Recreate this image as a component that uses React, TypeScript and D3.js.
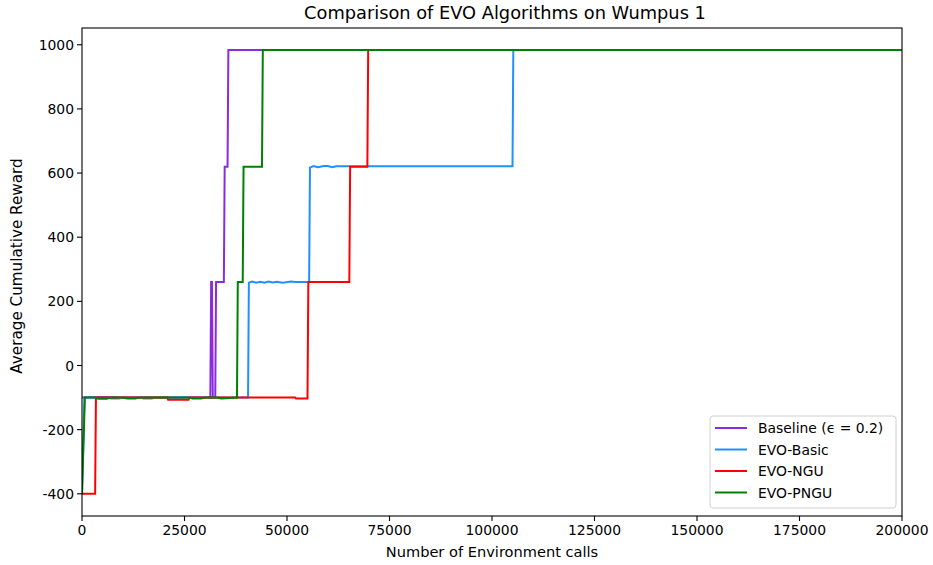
import React from "react";
import * as d3 from "d3";

const title = "Comparison of EVO Algorithms on Wumpus 1";
const xLabel = "Number of Environment calls";
const yLabel = "Average Cumulative Reward";
const xTicks = [0, 25000, 50000, 75000, 100000, 125000, 150000, 175000, 200000];
const yTicks = [-400, -200, 0, 200, 400, 600, 800, 1000];

const seriesNames = ["Baseline (\u03f5 = 0.2)", "EVO-Basic", "EVO-NGU", "EVO-PNGU"];
const seriesColors = ["#8a2be2", "#1e90ff", "#ff0000", "#008000"];

const baselineX = [0, 5000, 10000, 31300, 31500, 31700, 31900, 32500, 32700, 34600, 34800, 35500, 35700, 200000];
const baselineY = [-100, -98, -100, -100, 260, 260, -100, -100, 260, 260, 620, 620, 984, 984];

const basicX = [0, 600, 6000, 7000, 9000, 10000, 14000, 15000, 17000, 18000, 22000, 40500, 40700, 41500, 42500, 43500, 44500, 45500, 46500, 47500, 49000, 51000, 52000, 55400, 55600, 56500, 57500, 59000, 60000, 61000, 62000, 63000, 105000, 105200, 200000];
const basicY = [-400, -100, -100, -103, -103, -100, -100, -103, -103, -100, -100, -100, 258, 262, 258, 261, 258, 262, 259, 261, 258, 262, 260, 260, 617, 622, 618, 622, 622, 618, 621, 621, 621, 984, 984];

const nguX = [0, 3200, 3400, 20800, 21000, 26000, 26200, 52000, 52200, 55000, 55200, 65200, 65400, 69600, 69800, 200000];
const nguY = [-400, -400, -100, -100, -107, -107, -100, -100, -103, -103, 260, 260, 620, 620, 984, 984];

const pnguX = [0, 700, 3000, 4000, 6000, 7000, 10000, 11000, 13000, 14000, 26000, 27000, 29000, 30000, 33000, 34000, 37800, 38000, 39200, 39400, 43900, 44100, 200000];
const pnguY = [-400, -100, -100, -104, -104, -100, -100, -103, -103, -100, -100, -103, -103, -100, -100, -103, -100, 260, 260, 620, 620, 984, 984];

const seriesXs = [baselineX, basicX, nguX, pnguX];
const seriesYs = [baselineY, basicY, nguY, pnguY];

export default function App() {
  const W = 933, H = 565;
  const left = 82, right = 902, top = 28, bottom = 516;
  const x = d3.scaleLinear().domain([0, 200000]).range([left, right]);
  const y = d3.scaleLinear().domain([-469.2, 1052.2]).range([bottom, top]);
  const line = d3.line<[number, number]>().x(d => x(d[0])).y(d => y(d[1]));
  const font = "DejaVu Sans, sans-serif";
  const legX = 710, legY = 416, legW = 186, legH = 92;
  return (
    <svg width={W} height={H} style={{ position: "absolute", left: 0, top: 0, background: "#fff" }} fontFamily={font}>
      <rect x={0} y={0} width={W} height={H} fill="#fff" />
      <defs>
        <clipPath id="plot"><rect x={left} y={top} width={right - left} height={bottom - top} /></clipPath>
      </defs>
      <g clipPath="url(#plot)">
        {seriesXs.map((xs, i) => (
          <path key={i} d={line(xs.map((v, j) => [v, seriesYs[i][j]]) as [number, number][]) || ""}
            fill="none" stroke={seriesColors[i]} strokeWidth={2} strokeLinejoin="miter" strokeLinecap="square" />
        ))}
      </g>
      <rect x={left} y={top} width={right - left} height={bottom - top} fill="none" stroke="#000" strokeWidth={1.1} />
      {xTicks.map(t => (
        <g key={t}>
          <line x1={x(t)} x2={x(t)} y1={bottom} y2={bottom + 5} stroke="#000" strokeWidth={1.1} />
          <text x={x(t)} y={bottom + 19} fontSize={13.9} textAnchor="middle" fill="#000">{t}</text>
        </g>
      ))}
      {yTicks.map(t => (
        <g key={t}>
          <line x1={left - 5} x2={left} y1={y(t)} y2={y(t)} stroke="#000" strokeWidth={1.1} />
          <text x={left - 8} y={y(t) + 5} fontSize={13.9} textAnchor="end" fill="#000">{t}</text>
        </g>
      ))}
      <text x={(left + right) / 2 + 13} y={19} fontSize={17.8} textAnchor="middle" fill="#000">{title}</text>
      <text x={(left + right) / 2} y={557} fontSize={14.6} textAnchor="middle" fill="#000">{xLabel}</text>
      <text transform={`translate(22,${(top + bottom) / 2 - 6}) rotate(-90)`} fontSize={15.2} textAnchor="middle" fill="#000">{yLabel}</text>
      <rect x={legX} y={legY} width={legW} height={legH} rx={3} fill="#fff" fillOpacity={0.8} stroke="#d0d0d0" strokeWidth={1} />
      {seriesNames.map((n, i) => (
        <g key={n}>
          <line x1={legX + 5} x2={legX + 37} y1={legY + 12 + i * 21.5} y2={legY + 12 + i * 21.5} stroke={seriesColors[i]} strokeWidth={2} />
          <text x={legX + 48} y={legY + 17 + i * 21.5} fontSize={13.9} fill="#000">{n}</text>
        </g>
      ))}
    </svg>
  );
}
